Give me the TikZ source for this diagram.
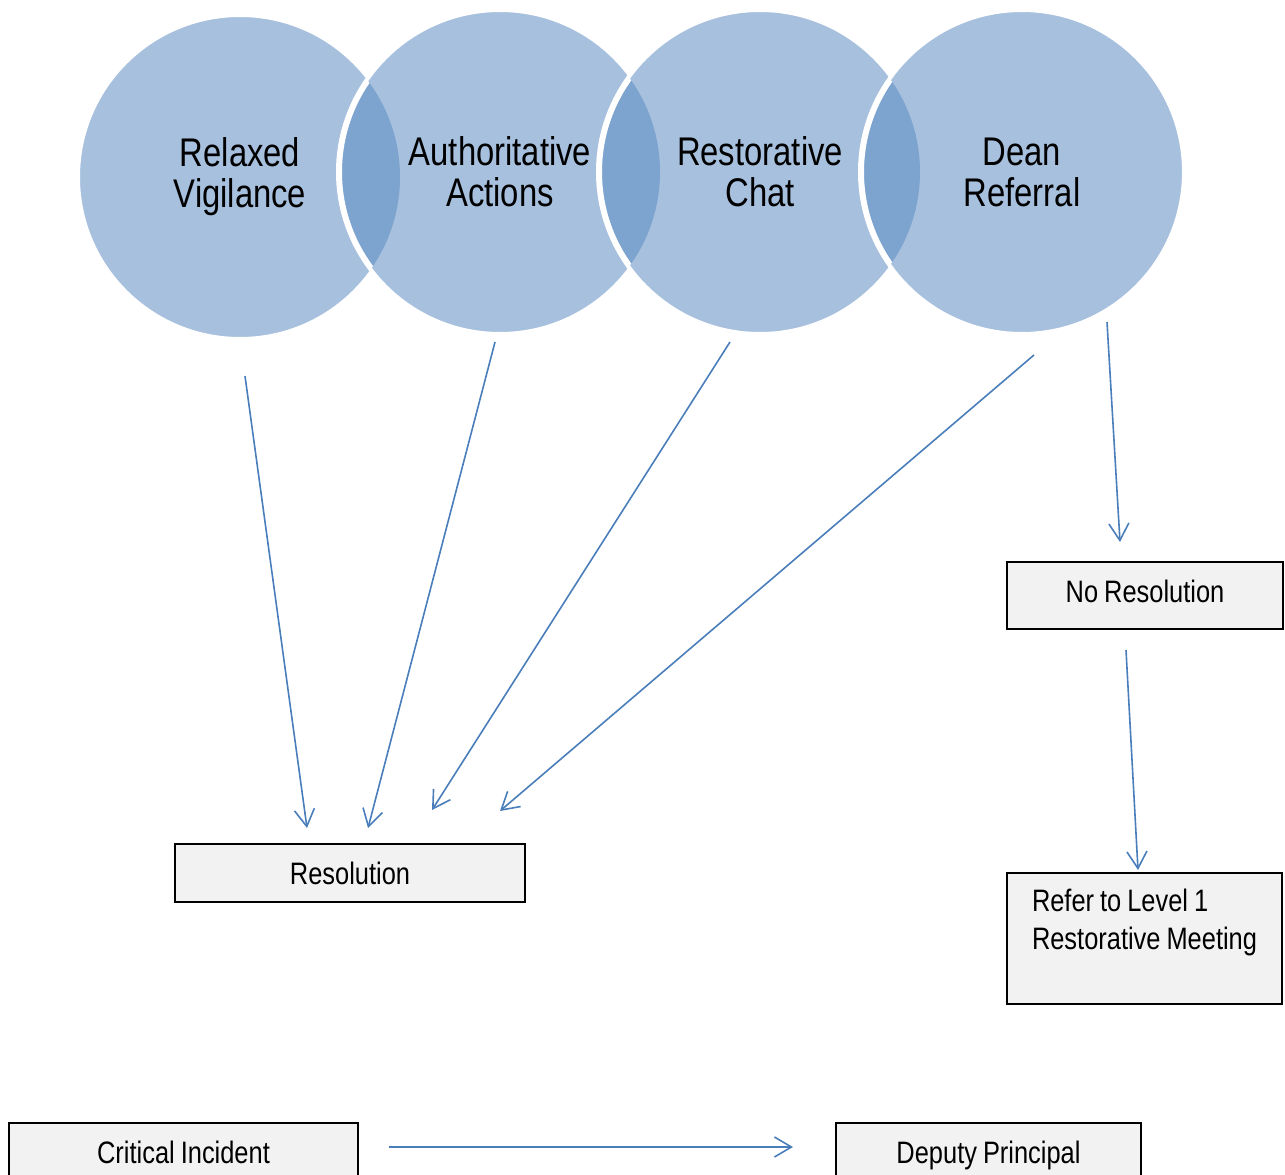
\documentclass[tikz,border=0pt]{standalone}
\usepackage{fontspec}
\setmainfont{Liberation Sans}[FakeStretch=0.82,WordSpace=0.85]
\usetikzlibrary{arrows.meta}

\definecolor{circblue}{HTML}{A7C0DE}
\definecolor{lensblue}{HTML}{7DA3CF}
\definecolor{arrblue}{HTML}{4A7EBB}
\definecolor{boxgray}{HTML}{F2F2F2}

\begin{document}
\begin{tikzpicture}[x=1pt,y=-1pt,
  bubble/.style={circle,fill=circblue,draw=white,line width=4pt,minimum size=324pt,inner sep=0pt,align=center,font=\fontsize{40}{41}\selectfont},
  box/.style={rectangle,fill=boxgray,draw=black,line width=1.6pt,inner sep=0pt,font=\fontsize{31}{38}\selectfont},
  oneline/.style={text height=22pt,text depth=0pt},
  arr/.style={arrblue,line width=1.6pt,-{Straight Barb[length=17pt,width=20pt]}}]

\useasboundingbox (0,0) rectangle (1285,1175);

% circles
\node[bubble] (rv) at (240,177) {Relaxed\\Vigilance};
\node[bubble] (aa) at (500,172) {Authoritative\\Actions};
\node[bubble] (rc) at (760,172) {Restorative\\Chat};
\node[bubble] (dr) at (1022,172) {Dean\\Referral};

% overlaps
\begin{scope}
\clip (240,177) circle (160);
\fill[lensblue] (500,172) circle (160);
\draw[white,line width=4pt] (500,172) circle (160);
\end{scope}
\begin{scope}
\clip (500,172) circle (160);
\fill[lensblue] (760,172) circle (160);
\draw[white,line width=4pt] (760,172) circle (160);
\end{scope}
\begin{scope}
\clip (760,172) circle (160);
\fill[lensblue] (1022,172) circle (160);
\draw[white,line width=4pt] (1022,172) circle (160);
\end{scope}

% boxes
\node[box,oneline,minimum width=350pt,minimum height=58pt] (res) at (350,873) {Resolution};
\node[box,oneline,minimum width=276pt,minimum height=67pt,text depth=9pt] (nores) at (1145,595.5) {No Resolution};
\node[box,minimum width=275pt,minimum height=131pt,align=left] (refer) at (1144.5,938.5) {Refer to Level 1\\Restorative Meeting\\\mbox{}};
\node[box,oneline,minimum width=349pt,minimum height=58pt] (crit) at (183.5,1152) {Critical Incident};
\node[box,oneline,minimum width=305pt,minimum height=58pt] (dep) at (988.5,1152) {Deputy Principal};

% arrow ends
\coordinate (rv-out) at (245,376);
\coordinate (aa-out) at (495,342);
\coordinate (rc-out) at (730,342);
\coordinate (dr-out) at (1034,355);
\coordinate (dr-down) at (1107,322);
\coordinate (res-a) at (307,828);
\coordinate (res-b) at (368,828);
\coordinate (res-c) at (432,810);
\coordinate (res-d) at (500,811);
\coordinate (nores-in) at (1120,542);
\coordinate (nores-out) at (1126,650);
\coordinate (refer-in) at (1138,870);
\coordinate (crit-out) at (389,1147);
\coordinate (dep-in) at (793,1147);

\draw[arr] (rv-out) -- (res-a);
\draw[arr] (aa-out) -- (res-b);
\draw[arr] (rc-out) -- (res-c);
\draw[arr] (dr-out) -- (res-d);
\draw[arr] (dr-down) -- (nores-in);
\draw[arr] (nores-out) -- (refer-in);
\draw[arr] (crit-out) -- (dep-in);

\end{tikzpicture}
\end{document}
